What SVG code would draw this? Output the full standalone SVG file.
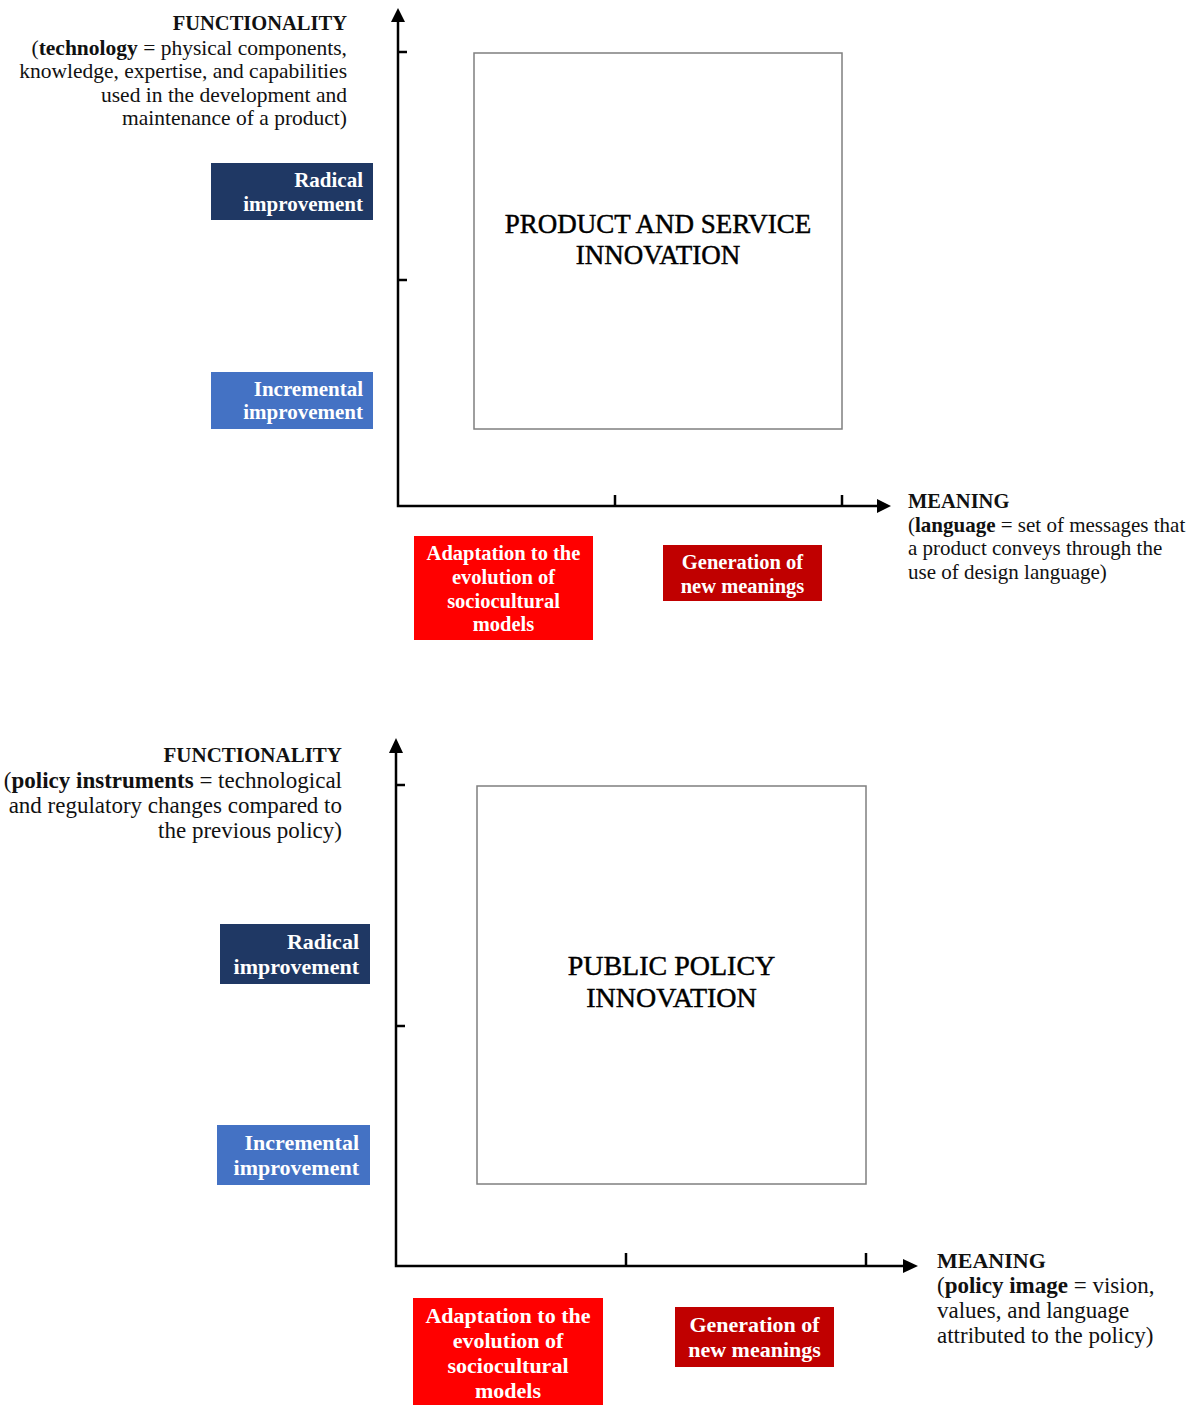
<svg xmlns="http://www.w3.org/2000/svg" width="1198" height="1405" viewBox="0 0 1198 1405">
  <defs>
    <style>
      .txt { font-family: "Liberation Serif", "DejaVu Serif", serif; fill: #111; }
      .lbl { font-family: "Liberation Serif", "DejaVu Serif", serif; fill: #fff; font-weight: bold; }
      .axis { stroke: #000; stroke-width: 2.5; fill: none; }
      .tick { stroke: #000; stroke-width: 2.5; }
      .frame { fill: #fff; stroke: #7f7f7f; stroke-width: 1.5; }
      .title { font-family: "Liberation Serif", "DejaVu Serif", serif; fill: #000; stroke: #000; stroke-width: 0.45; text-anchor: middle; }
    </style>
  </defs>
  <rect width="1198" height="1405" fill="#fff"/>

  <!-- Upper chart: product and service innovation -->
  <g id="connectors-top">
    <polyline class="axis" points="398,20 398,506 880,506"/>
    <path d="M391,22 L398,8 L405,22 z" fill="#000"/>
    <path d="M877,499 L891,506 L877,513 z" fill="#000"/>
    <line class="tick" x1="398" y1="52" x2="407" y2="52"/>
    <line class="tick" x1="398" y1="280" x2="407" y2="280"/>
    <line class="tick" x1="615" y1="495" x2="615" y2="506"/>
    <line class="tick" x1="842" y1="495" x2="842" y2="506"/>
  </g>

  <g id="top-y-title">
    <text class="txt" x="347" y="30" font-size="20.5" font-weight="bold" text-anchor="end">FUNCTIONALITY</text>
    <text class="txt" x="347" y="55" font-size="21.5" text-anchor="end">(<tspan font-weight="bold">technology</tspan> = physical components,</text>
    <text class="txt" x="347" y="78" font-size="21.5" text-anchor="end">knowledge, expertise, and capabilities</text>
    <text class="txt" x="347" y="102" font-size="21.5" text-anchor="end">used in the development and</text>
    <text class="txt" x="347" y="125" font-size="21.5" text-anchor="end">maintenance of a product)</text>
  </g>

  <g id="top-x-title">
    <text class="txt" x="908" y="508" font-size="20.5" font-weight="bold">MEANING</text>
    <text class="txt" x="908" y="532" font-size="21">(<tspan font-weight="bold">language</tspan> = set of messages that</text>
    <text class="txt" x="908" y="555" font-size="21">a product conveys through the</text>
    <text class="txt" x="908" y="579" font-size="21">use of design language)</text>
  </g>

  <g id="top-frame">
    <rect class="frame" x="474" y="53" width="368" height="376"/>
    <text class="title" x="658" y="233" font-size="27">PRODUCT AND SERVICE</text>
    <text class="title" x="658" y="264" font-size="27">INNOVATION</text>
  </g>

  <g id="top-radical">
    <rect x="211" y="163" width="162" height="57" fill="#1f3864"/>
    <text class="lbl" x="363" y="187" font-size="21" text-anchor="end">Radical</text>
    <text class="lbl" x="363" y="211" font-size="21" text-anchor="end">improvement</text>
  </g>

  <g id="top-incremental">
    <rect x="211" y="372" width="162" height="57" fill="#4472c4"/>
    <text class="lbl" x="363" y="396" font-size="21" text-anchor="end">Incremental</text>
    <text class="lbl" x="363" y="419" font-size="21" text-anchor="end">improvement</text>
  </g>

  <g id="top-adaptation">
    <rect x="414" y="536" width="179" height="104" fill="#ff0000"/>
    <text class="lbl" x="503.5" y="560" font-size="20.5" text-anchor="middle">Adaptation to the</text>
    <text class="lbl" x="503.5" y="584" font-size="20.5" text-anchor="middle">evolution of</text>
    <text class="lbl" x="503.5" y="608" font-size="20.5" text-anchor="middle">sociocultural</text>
    <text class="lbl" x="503.5" y="631" font-size="20.5" text-anchor="middle">models</text>
  </g>

  <g id="top-generation">
    <rect x="663" y="545" width="159" height="56" fill="#c00000"/>
    <text class="lbl" x="742.5" y="569" font-size="20.5" text-anchor="middle">Generation of</text>
    <text class="lbl" x="742.5" y="593" font-size="20.5" text-anchor="middle">new meanings</text>
  </g>

  <!-- Lower chart: public policy innovation -->
  <g id="connectors-bottom">
    <polyline class="axis" points="396,752 396,1266 906,1266"/>
    <path d="M389,753 L396,738 L403,753 z" fill="#000"/>
    <path d="M903,1259 L918,1266 L903,1273 z" fill="#000"/>
    <line class="tick" x1="396" y1="785" x2="405" y2="785"/>
    <line class="tick" x1="396" y1="1026" x2="405" y2="1026"/>
    <line class="tick" x1="626" y1="1253" x2="626" y2="1266"/>
    <line class="tick" x1="866" y1="1253" x2="866" y2="1266"/>
  </g>

  <g id="bottom-y-title">
    <text class="txt" x="342" y="762" font-size="21" font-weight="bold" text-anchor="end">FUNCTIONALITY</text>
    <text class="txt" x="342" y="788" font-size="23" text-anchor="end">(<tspan font-weight="bold">policy instruments</tspan> = technological</text>
    <text class="txt" x="342" y="813" font-size="23" text-anchor="end">and regulatory changes compared to</text>
    <text class="txt" x="342" y="838" font-size="23" text-anchor="end">the previous policy)</text>
  </g>

  <g id="bottom-x-title">
    <text class="txt" x="937" y="1268" font-size="22" font-weight="bold">MEANING</text>
    <text class="txt" x="937" y="1293" font-size="23">(<tspan font-weight="bold">policy image</tspan> = vision,</text>
    <text class="txt" x="937" y="1318" font-size="23">values, and language</text>
    <text class="txt" x="937" y="1343" font-size="23">attributed to the policy)</text>
  </g>

  <g id="bottom-frame">
    <rect class="frame" x="477" y="786" width="389" height="398"/>
    <text class="title" x="671.5" y="975" font-size="28">PUBLIC POLICY</text>
    <text class="title" x="671.5" y="1007" font-size="28">INNOVATION</text>
  </g>

  <g id="bottom-radical">
    <rect x="220" y="924" width="150" height="60" fill="#1f3864"/>
    <text class="lbl" x="359" y="949" font-size="22" text-anchor="end">Radical</text>
    <text class="lbl" x="359" y="974" font-size="22" text-anchor="end">improvement</text>
  </g>

  <g id="bottom-incremental">
    <rect x="217" y="1125" width="153" height="60" fill="#4472c4"/>
    <text class="lbl" x="359" y="1150" font-size="22" text-anchor="end">Incremental</text>
    <text class="lbl" x="359" y="1175" font-size="22" text-anchor="end">improvement</text>
  </g>

  <g id="bottom-adaptation">
    <rect x="413" y="1298" width="190" height="107" fill="#ff0000"/>
    <text class="lbl" x="508" y="1323" font-size="22" text-anchor="middle">Adaptation to the</text>
    <text class="lbl" x="508" y="1348" font-size="22" text-anchor="middle">evolution of</text>
    <text class="lbl" x="508" y="1373" font-size="22" text-anchor="middle">sociocultural</text>
    <text class="lbl" x="508" y="1398" font-size="22" text-anchor="middle">models</text>
  </g>

  <g id="bottom-generation">
    <rect x="675" y="1307" width="159" height="60" fill="#c00000"/>
    <text class="lbl" x="754.5" y="1332" font-size="22" text-anchor="middle">Generation of</text>
    <text class="lbl" x="754.5" y="1357" font-size="22" text-anchor="middle">new meanings</text>
  </g>
</svg>
